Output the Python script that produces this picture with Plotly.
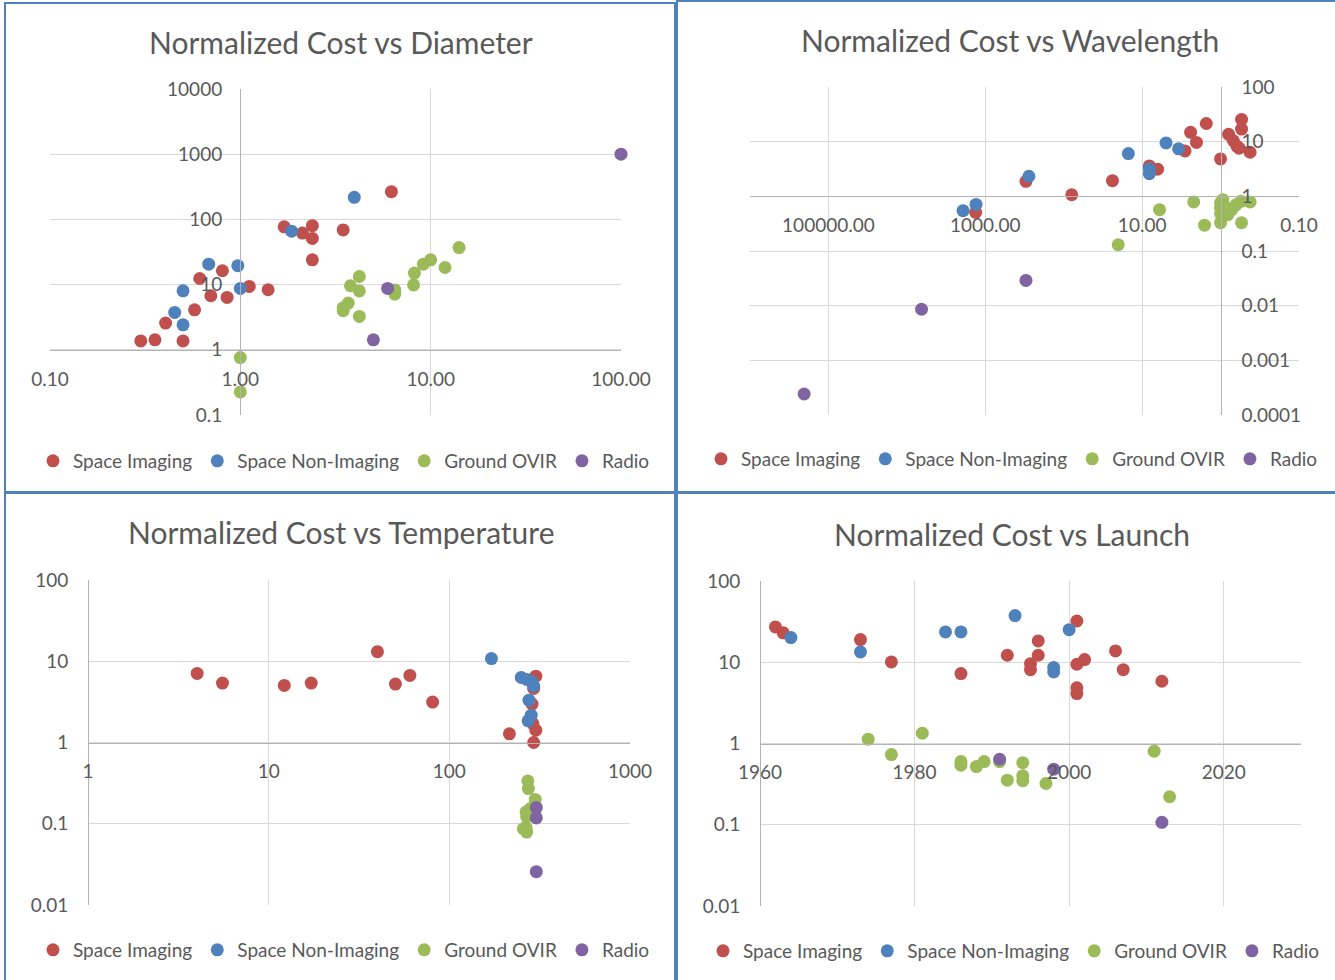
import plotly.graph_objects as go

W, H = 1335, 980

SERIES = ["Space Imaging", "Space Non-Imaging", "Ground OVIR", "Radio"]
COLORS = ["#C0504D", "#4F81BD", "#9BBB59", "#8064A2"]

# --- Normalized cost vs diameter (m)
diam_img_x = [0.30, 0.356, 0.405, 0.50, 0.575, 0.612, 0.70, 0.805, 0.852, 1.114, 1.40, 1.70, 2.12, 2.39, 2.39, 2.39, 3.47, 6.22]
diam_img_y = [1.37, 1.42, 2.57, 1.37, 4.11, 12.4, 6.74, 16.3, 6.36, 9.37, 8.33, 77, 61.7, 80, 51, 24, 69, 266]
diam_non_x = [0.452, 0.50, 0.50, 0.682, 0.97, 1.0, 1.86, 3.97]
diam_non_y = [3.74, 8.04, 2.42, 20.6, 19.5, 8.73, 66, 218]
diam_gnd_x = [1.0, 1.0, 3.47, 3.47, 3.69, 3.79, 4.22, 4.22, 4.22, 6.48, 6.48, 8.13, 8.22, 9.16, 10.0, 11.9, 14.1]
diam_gnd_y = [0.76, 0.226, 3.97, 4.4, 5.2, 9.6, 13.3, 8.0, 3.25, 7.15, 8.3, 9.9, 15, 20.6, 24, 18.3, 37]
diam_rad_x = [5.0, 5.94, 100]
diam_rad_y = [1.42, 8.73, 1000]

# --- Normalized cost vs wavelength (um)
wave_img_x = [1327, 303, 79, 23.9, 8.1, 6.35, 2.84, 2.41, 2.03, 1.52, 1.0, 0.79, 0.686, 0.62, 0.58, 0.54, 0.54, 0.42]
wave_img_y = [0.51, 1.88, 1.07, 1.93, 3.6, 3.14, 6.77, 14.8, 9.7, 21.5, 4.84, 13.6, 10.4, 8.3, 7.6, 25.5, 17, 6.4]
wave_non_x = [1920, 1312, 278, 15, 8.1, 8.1, 4.96, 3.43]
wave_non_y = [0.546, 0.71, 2.33, 6.05, 3.17, 2.6, 9.5, 7.4]
wave_gnd_x = [20.2, 6.0, 2.2, 1.6, 1.0, 1.0, 1.0, 1.0, 0.935, 0.89, 0.81, 0.72, 0.635, 0.55, 0.54, 0.42]
wave_gnd_y = [0.13, 0.57, 0.79, 0.297, 0.76, 0.61, 0.48, 0.33, 0.87, 0.66, 0.46, 0.57, 0.70, 0.81, 0.33, 0.79]
wave_rad_x = [204000, 6500, 303]
wave_rad_y = [0.000242, 0.0086, 0.0289]

# --- Normalized cost vs temperature (K)
temp_img_x = [4.02, 5.55, 12.2, 17.2, 40, 50.3, 60.5, 80.8, 215, 293, 301, 287, 293, 301, 290]
temp_img_y = [7.08, 5.38, 5.04, 5.38, 13.1, 5.23, 6.69, 3.14, 1.28, 1.0, 1.42, 2.97, 4.63, 6.56, 1.71]
temp_non_x = [171, 250, 268, 287, 293, 276, 284, 273]
temp_non_y = [10.8, 6.32, 5.97, 5.59, 4.94, 3.32, 2.17, 1.85]
temp_gnd_x = [272, 274, 299, 266, 281, 268, 266, 268, 257]
temp_gnd_y = [0.337, 0.271, 0.199, 0.14, 0.154, 0.121, 0.0897, 0.079, 0.087]
temp_rad_x = [303, 303, 303]
temp_rad_y = [0.158, 0.118, 0.0257]

# --- Normalized cost vs launch year
launch_img_x = [1962, 1963, 1973, 1977, 1986, 1992, 1995, 1995, 1996, 1996, 2001, 2001, 2001, 2001, 2002, 2006, 2007, 2012]
launch_img_y = [27.2, 23, 19, 10.1, 7.26, 12.2, 9.6, 8.1, 18.3, 12.2, 32.2, 9.45, 4.84, 4.12, 10.8, 13.8, 8.1, 5.84]
launch_non_x = [1964, 1973, 1984, 1986, 1993, 1998, 1998, 2000]
launch_non_y = [20.1, 13.4, 23.6, 23.6, 37.5, 8.6, 7.6, 25.2]
launch_gnd_x = [1974, 1977, 1981, 1986, 1986, 1988, 1989, 1991, 1992, 1994, 1994, 1994, 1997, 2011, 2013]
launch_gnd_y = [1.13, 0.73, 1.34, 0.60, 0.54, 0.52, 0.60, 0.60, 0.354, 0.58, 0.40, 0.348, 0.322, 0.805, 0.221]
launch_rad_x = [1991, 1998, 2012]
launch_rad_y = [0.64, 0.483, 0.107]

# tick labels
diam_xticks = [0.1, 1, 10, 100]
diam_xlabels = ["0.10", "1.00", "10.00", "100.00"]
diam_yticks = [0.1, 1, 10, 100, 1000, 10000]
diam_ylabels = ["0.1", "1", "10", "100", "1000", "10000"]
wave_xticks = [100000, 1000, 10, 0.1]
wave_xlabels = ["100000.00", "1000.00", "10.00", "0.10"]
wave_yticks = [0.0001, 0.001, 0.01, 0.1, 1, 10, 100]
wave_ylabels = ["0.0001", "0.001", "0.01", "0.1", "1", "10", "100"]
temp_xticks = [1, 10, 100, 1000]
temp_xlabels = ["1", "10", "100", "1000"]
cost_yticks = [0.01, 0.1, 1, 10, 100]
cost_ylabels = ["0.01", "0.1", "1", "10", "100"]
launch_xticks = [1960, 1980, 2000, 2020]
launch_xlabels = ["1960", "1980", "2000", "2020"]

FONT = "Lato, 'Open Sans', sans-serif"
TEXT = "#595959"
GRID = "#D9D9D9"
AXLINE = "#B3B3B3"


def px(x):
    return x / W


def py(y):
    return 1 - y / H


panels = [
    dict(title="Normalized Cost vs Diameter", title_at=(341, 42), legend_at=(344, 461),
         data=[(diam_img_x, diam_img_y), (diam_non_x, diam_non_y), (diam_gnd_x, diam_gnd_y), (diam_rad_x, diam_rad_y)],
         xdom=(50, 621), ydom=(89, 415), xtype="log", xrange=[-1, 2], yrange=[-1, 4],
         xticks=(diam_xticks, diam_xlabels), yticks=(diam_yticks, diam_ylabels),
         xline_at=350, yline_at=240, yside="left", xstand=12, ystand=14),
    dict(title="Normalized Cost vs Wavelength", title_at=(1010, 40), legend_at=(1012, 459),
         data=[(wave_img_x, wave_img_y), (wave_non_x, wave_non_y), (wave_gnd_x, wave_gnd_y), (wave_rad_x, wave_rad_y)],
         xdom=(750, 1299), ydom=(87, 415), xtype="log", xrange=[6, -1], yrange=[-4, 2],
         xticks=(wave_xticks, wave_xlabels), yticks=(wave_yticks, wave_ylabels),
         xline_at=196.3, yline_at=1220.6, yside="right", xstand=12, ystand=16),
    dict(title="Normalized Cost vs Temperature", title_at=(341, 532), legend_at=(344, 950),
         data=[(temp_img_x, temp_img_y), (temp_non_x, temp_non_y), (temp_gnd_x, temp_gnd_y), (temp_rad_x, temp_rad_y)],
         xdom=(88, 630), ydom=(580, 905), xtype="log", xrange=[0, 3], yrange=[-2, 2],
         xticks=(temp_xticks, temp_xlabels), yticks=(cost_yticks, cost_ylabels),
         xline_at=742.5, yline_at=88, yside="left", xstand=12, ystand=16),
    dict(title="Normalized Cost vs Launch", title_at=(1012, 534), legend_at=(1014, 951),
         data=[(launch_img_x, launch_img_y), (launch_non_x, launch_non_y), (launch_gnd_x, launch_gnd_y), (launch_rad_x, launch_rad_y)],
         xdom=(760, 1301), ydom=(581, 906), xtype="linear", xrange=[1960, 2030], yrange=[-2, 2],
         xticks=(launch_xticks, launch_xlabels), yticks=(cost_yticks, cost_ylabels),
         xline_at=743.5, yline_at=760, yside="left", xstand=12, ystand=16),
]

fig = go.Figure()
layout = dict(
    width=W, height=H, margin=dict(l=0, r=0, t=0, b=0, pad=0, autoexpand=False),
    paper_bgcolor="white", plot_bgcolor="white",
    font=dict(family=FONT, color=TEXT, size=19),
    annotations=[], shapes=[],
)

for i, p in enumerate(panels, start=1):
    sfx = "" if i == 1 else str(i)
    leg = "legend" + sfx
    for (xs, ys), name, color in zip(p["data"], SERIES, COLORS):
        fig.add_trace(go.Scatter(
            x=xs, y=ys, mode="markers", name=name,
            xaxis="x" + sfx, yaxis="y" + sfx, legend=leg,
            marker=dict(color=color, size=13, line=dict(width=0)),
            cliponaxis=False,
        ))

    layout["xaxis" + sfx] = dict(
        type=p["xtype"], range=p["xrange"],
        domain=[px(p["xdom"][0]), px(p["xdom"][1])],
        anchor="free", position=py(p["xline_at"]),
        tickmode="array", tickvals=p["xticks"][0], ticktext=p["xticks"][1],
        showgrid=True, gridcolor=GRID, gridwidth=1,
        showline=True, linecolor=AXLINE, linewidth=1,
        zeroline=False, ticks="", ticklabelstandoff=p["xstand"],
        tickfont=dict(family=FONT, size=19, color=TEXT), automargin=False,
    )
    layout["yaxis" + sfx] = dict(
        type="log", range=p["yrange"],
        domain=[py(p["ydom"][1]), py(p["ydom"][0])],
        anchor="free", position=px(p["yline_at"]), side=p["yside"],
        tickmode="array", tickvals=p["yticks"][0], ticktext=p["yticks"][1],
        showgrid=True, gridcolor=GRID, gridwidth=1,
        showline=True, linecolor=AXLINE, linewidth=1,
        zeroline=False, ticks="", ticklabelstandoff=p["ystand"],
        tickfont=dict(family=FONT, size=19, color=TEXT), automargin=False,
    )
    layout[leg] = dict(
        orientation="h", x=px(p["legend_at"][0]), y=py(p["legend_at"][1]),
        xanchor="center", yanchor="middle", bgcolor="rgba(0,0,0,0)",
        font=dict(family=FONT, size=19, color=TEXT),
        itemwidth=30, tracegroupgap=0,
    )
    layout["annotations"].append(dict(
        text=p["title"], x=px(p["title_at"][0]), y=py(p["title_at"][1]),
        xref="paper", yref="paper", xanchor="center", yanchor="middle",
        showarrow=False, font=dict(family=FONT, size=30, color=TEXT),
    ))

# chart frames
for x0, y0, x1, y1 in [(5, 3, 675, 492), (677, 1, 1340, 492), (5, 493, 675, 985), (677, 493, 1340, 985)]:
    layout["shapes"].append(dict(
        type="rect", xref="paper", yref="paper",
        x0=px(x0), x1=px(x1), y0=py(y1), y1=py(y0),
        line=dict(color="#4F81BD", width=2), layer="above",
    ))

fig.update_layout(**layout)
fig.write_html("out.html", config={"displayModeBar": False},
               post_script="document.body.style.margin = '0px';")
